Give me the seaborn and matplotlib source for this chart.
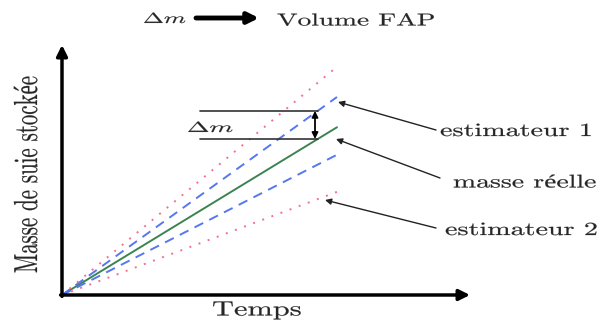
import numpy as np
import pandas as pd
import matplotlib
matplotlib.use('Agg')
import matplotlib.pyplot as plt
import matplotlib.patheffects as pe
from matplotlib.transforms import Affine2D
from matplotlib.patches import FancyArrowPatch
import seaborn as sns

# ---- data (schematic) ----
temps = [0, 10]
masse_reelle = [0, 6.1]
est1_haut = [0, 7.2]
est1_bas = [0, 5.1]
est2_haut = [0, 8.3]
est2_bas = [0, 3.75]

series = {
    'reelle': masse_reelle,
    'est1_haut': est1_haut,
    'est1_bas': est1_bas,
    'est2_haut': est2_haut,
    'est2_bas': est2_bas,
}

rows = []
for name, vals in series.items():
    for t, m in zip(temps, vals):
        rows.append({'temps': t, 'masse': m, 'serie': name})
df = pd.DataFrame(rows)

sns.set_style('white')
plt.rcParams['font.family'] = ['cmr10', 'Liberation Serif']
plt.rcParams['mathtext.fontset'] = 'cm'
plt.rcParams['axes.unicode_minus'] = False


# the original picture is stretched sideways, glyphs included
class Stretch(pe.AbstractPathEffect):
    def __init__(self, sx=1.0, sy=1.0, bold=0.15):
        super().__init__()
        self.sx, self.sy, self.bold = sx, sy, bold

    def draw_path(self, renderer, gc, tpath, affine, rgbFace=None):
        gc0 = renderer.new_gc()
        gc0.copy_properties(gc)
        gc0.set_linewidth(self.bold)
        if rgbFace is not None:
            gc0.set_foreground(rgbFace)
        renderer.draw_path(gc0, tpath, Affine2D().scale(self.sx, self.sy) + affine, rgbFace)
        gc0.restore()


S = 27.5  # pixels per data unit
H = 324

fig = plt.figure(figsize=(6, 3.24), dpi=100)
ax = fig.add_axes([0, 0, 1, 1])
ax.set_xlim(-62 / S, (600 - 62) / S)
ax.set_ylim((295 - H) / S, 295 / S)
ax.axis('off')


def px(x, y):
    return ((x - 62) / S, (295 - y) / S)


def ftext(x, y, s, size, sx=1.5, sy=1.0, **kw):
    # x, y = left end of baseline, in picture pixels
    return fig.text(x / 600, 1 - y / H, s, fontsize=size, ha='left', va='baseline',
                    path_effects=[Stretch(sx, sy)], **kw)


palette = {'reelle': '#3b8451', 'est1_haut': '#5577f0', 'est1_bas': '#5577f0',
           'est2_haut': '#f2708e', 'est2_bas': '#f2708e'}
dashes = {'reelle': '', 'est1_haut': (5, 3.5), 'est1_bas': (5, 3.5),
          'est2_haut': (1, 4), 'est2_bas': (1, 4)}
sns.lineplot(data=df, x='temps', y='masse', hue='serie', style='serie',
             palette=palette, dashes=dashes, legend=False, ax=ax, lw=1.4)

# axes with arrows
arr = dict(arrowstyle='-|>', color='black', lw=2.5, mutation_scale=16, shrinkA=0, shrinkB=0)
ax.annotate('', xy=px(470, 295), xytext=(-0.05, 0), arrowprops=arr)
ax.annotate('', xy=px(62, 45), xytext=(0, -0.05), arrowprops=arr)

ftext(212, 315.5, 'Temps', 14.8, sx=1.48)
ftext(37, 273, 'Masse de suie stockée', 15, sx=1.0, sy=1.6,
      rotation=90, rotation_mode='anchor')

# delta m bracket
xb = 9.3
y_lo = 0.61 * xb
y_hi = 0.72 * xb
ax.plot([5.0, xb], [y_hi, y_hi], color='#333333', lw=1.2)
ax.plot([5.0, xb], [y_lo, y_lo], color='#333333', lw=1.2)
ax.annotate('', xy=(xb - 0.1, y_hi), xytext=(xb - 0.1, y_lo),
            arrowprops=dict(arrowstyle='<|-|>', color='black', lw=1.3,
                            mutation_scale=9, shrinkA=0, shrinkB=0))
ftext(187, 132, r'$\Delta m$', 10.5, sx=1.85)

# annotations
ann = dict(arrowstyle='-|>', color='#222222', lw=1.0, mutation_scale=9, shrinkA=0, shrinkB=0)
ax.annotate('', xy=px(338, 102), xytext=px(436, 130), arrowprops=ann)
ax.annotate('', xy=px(336, 139), xytext=px(440, 178), arrowprops=ann)
ax.annotate('', xy=px(325, 200), xytext=px(436, 228), arrowprops=ann)
ftext(440, 136, 'estimateur 1', 13.3, sx=1.52)
ftext(453, 187.5, 'masse réelle', 13.3, sx=1.5)
ftext(445, 235, 'estimateur 2', 13.3, sx=1.52)

# title line
ftext(143, 23, r'$\Delta m$', 10.5, sx=1.72)
fig.patches.append(FancyArrowPatch(
    (196 / 600, 1 - 18 / H), (259 / 600, 1 - 18 / H), transform=fig.transFigure,
    arrowstyle='-|>', color='black', lw=3.5, mutation_scale=16, shrinkA=0, shrinkB=0))
ftext(277, 25.5, 'Volume FAP', 12.5, sx=1.58)

fig.savefig('out.png', dpi=100)
